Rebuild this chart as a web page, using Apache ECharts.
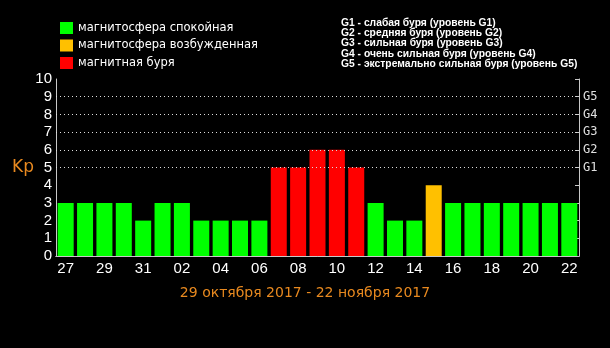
<!DOCTYPE html>
<html><head><meta charset="utf-8">
<script src="https://cdn.jsdelivr.net/npm/echarts@6/dist/echarts.min.js"></script>
<style>html,body{margin:0;padding:0;background:#000;}#c{width:610px;height:348px;}</style>
</head><body><div id="c"></div>
<script>
const days = ['27','28','29','30','31','01','02','03','04','05','06','07','08','09','10','11','12','13','14','15','16','17','18','19','20','21','22'];
const kp =   [3,3,3,3,2,3,3,2,2,2,2,5,5,6,6,5,3,2,2,4,3,3,3,3,3,3,3];
const level = ['q','q','q','q','q','q','q','q','q','q','q','s','s','s','s','s','q','q','q','e','q','q','q','q','q','q','q'];
const legendNames = {q:'магнитосфера спокойная', e:'магнитосфера возбужденная', s:'магнитная буря'};
const colors = {q:'#00ff00', e:'#ffc000', s:'#ff0000'};
const gLabels = {5:'G1',6:'G2',7:'G3',8:'G4',9:'G5'};
const gLines = ['G1 - слабая буря (уровень G1)','G2 - средняя буря (уровень G2)','G3 - сильная буря (уровень G3)','G4 - очень сильная буря (уровень G4)','G5 - экстремально сильная буря (уровень G5)'];
const gridLevels = [5,6,7,8,9];
const title = '29 октября 2017 - 22 ноября 2017';

const axisCol = '#c8c8c8';
const chart = echarts.init(document.getElementById('c'));
const barSeries = ['q','e','s'].map(k => ({
  name: legendNames[k], type:'bar', barWidth:16, barGap:'-100%', z:3,
  itemStyle:{color:colors[k]},
  data: kp.map((v,i)=> level[i]===k ? v : '-')
}));
chart.setOption({
  backgroundColor:'#000',
  animation:false,
  title:{text:title,left:'center',top:281,textStyle:{color:'#e8891f',fontSize:14,fontWeight:'normal',fontFamily:'DejaVu Sans'}},
  legend:{orient:'vertical',left:55,top:17,itemWidth:13,itemHeight:12,itemGap:5.5,icon:'rect',
    data:barSeries.map(s=>s.name),textStyle:{color:'#fff',fontSize:11.5,fontFamily:'DejaVu Sans'}},
  graphic:[{type:'text',left:341,top:18,style:{text:gLines.join('\n'),fill:'#fff',font:'bold 10.3px "Liberation Sans"',lineHeight:10.2}}],
  grid:{left:56,right:31,top:79,bottom:92},
  xAxis:[
    {type:'category',data:days,position:'bottom',
     axisLine:{lineStyle:{color:axisCol}},axisTick:{inside:true,length:4,lineStyle:{color:axisCol}},
     axisLabel:{interval:1,color:'#fff',fontSize:15,fontFamily:'Liberation Sans',margin:5}},
    {type:'category',data:days,position:'top',
     axisLine:{lineStyle:{color:axisCol}},axisTick:{inside:true,length:4,lineStyle:{color:axisCol}},axisLabel:{show:false}}
  ],
  yAxis:[
    {type:'value',min:0,max:10,interval:1,position:'left',
     name:'Kp',nameLocation:'middle',nameGap:22,nameRotate:0,nameMoveOverlap:false,
     nameTextStyle:{color:'#e8891f',fontSize:17,fontFamily:'DejaVu Sans'},
     axisLine:{show:true,lineStyle:{color:axisCol}},axisTick:{show:false},splitLine:{show:false},
     axisLabel:{color:'#fff',fontSize:15,fontFamily:'Liberation Sans',margin:4}},
    {type:'value',min:0,max:10,interval:1,position:'right',
     axisLine:{show:true,lineStyle:{color:axisCol}},axisTick:{show:true,inside:true,length:4,lineStyle:{color:axisCol}},splitLine:{show:false},
     axisLabel:{color:'#e0e0e0',fontSize:12,fontFamily:'DejaVu Sans Mono',margin:4,formatter:v=>gLabels[v]||''}}
  ],
  series:[
    ...barSeries,
    {name:'grid',type:'line',data:[],z:1,silent:true,
     markLine:{silent:true,symbol:['none','none'],label:{show:false},
       lineStyle:{color:'#ddd',type:[1,3],width:1},
       data:gridLevels.map(v=>({yAxis:v}))}}
  ]
});
</script></body></html>
